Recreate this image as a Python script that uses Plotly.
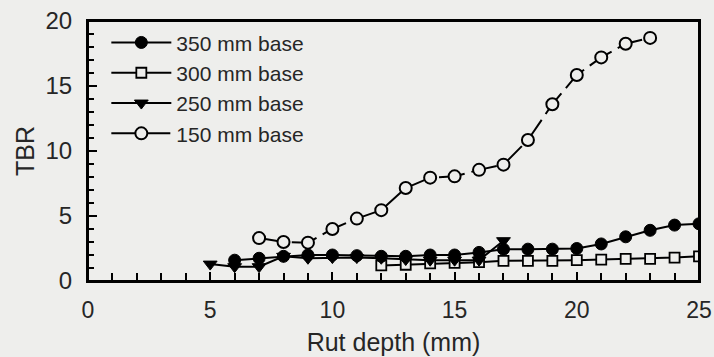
import plotly.graph_objects as go

x350 = [6, 7, 8, 9, 10, 11, 12, 13, 14, 15, 16, 17, 18, 19, 20, 21, 22, 23, 24, 25]
y350 = [1.6, 1.75, 1.9, 2.0, 2.0, 1.95, 1.9, 1.9, 2.0, 2.0, 2.2, 2.45, 2.45, 2.45, 2.5, 2.85, 3.4, 3.9, 4.3, 4.4]

x300 = [12, 13, 14, 15, 16, 17, 18, 19, 20, 21, 22, 23, 24, 25]
y300 = [1.2, 1.25, 1.35, 1.4, 1.45, 1.55, 1.55, 1.55, 1.6, 1.65, 1.7, 1.7, 1.8, 1.9]

x250 = [5, 6, 7, 8, 9, 10, 11, 12, 13, 14, 15, 16, 17]
y250 = [1.3, 1.1, 1.1, 1.9, 1.75, 1.8, 1.8, 1.75, 1.65, 1.6, 1.6, 1.6, 3.1]

x150 = [7, 8, 9, 10, 11, 12, 13, 14, 15, 16, 17, 18, 19, 20, 21, 22, 23]
y150 = [3.3, 3.0, 2.95, 4.0, 4.8, 5.45, 7.15, 7.95, 8.05, 8.55, 8.95, 10.85, 13.6, 15.85, 17.2, 18.25, 18.7]

x_tick_step = 5
y_tick_step = 5

BG = "#eeeeec"
FONT = "Liberation Sans, Arial, sans-serif"
TXT = "#262626"

fig = go.Figure()
fig.add_trace(go.Scatter(
    x=x150, y=y150, name="150 mm base", mode="lines+markers", legendrank=4,
    line=dict(color="black", width=2, dash="26px,7px"),
    marker=dict(symbol="circle", size=12, color=BG, line=dict(color="black", width=2)),
))
fig.add_trace(go.Scatter(
    x=x300, y=y300, name="300 mm base", mode="lines+markers", legendrank=2,
    line=dict(color="black", width=2),
    marker=dict(symbol="square", size=10, color=BG, line=dict(color="black", width=1.8)),
))
fig.add_trace(go.Scatter(
    x=x250, y=y250, name="250 mm base", mode="lines+markers", legendrank=3,
    line=dict(color="black", width=2),
    marker=dict(symbol="triangle-down", size=12, color="black", line=dict(color="black", width=1)),
))
fig.add_trace(go.Scatter(
    x=x350, y=y350, name="350 mm base", mode="lines+markers", legendrank=1,
    line=dict(color="black", width=2),
    marker=dict(symbol="circle", size=12, color="black", line=dict(color="black", width=1)),
))

fig.add_shape(
    type="rect", xref="paper", yref="paper", x0=0, y0=0, x1=1, y1=1,
    line=dict(color="black", width=2), layer="above",
)

fig.update_layout(
    width=714, height=357,
    margin=dict(l=88, r=15, t=21, b=76, autoexpand=False),
    paper_bgcolor=BG, plot_bgcolor=BG,
    font=dict(family=FONT, color=TXT, size=24),
    showlegend=True,
    legend=dict(
        x=0.03, y=0.995, xanchor="left", yanchor="top",
        bgcolor="rgba(0,0,0,0)", font=dict(size=21, color=TXT),
        tracegroupgap=0, itemwidth=60,
    ),
    xaxis=dict(
        range=[0, 25], tickmode="linear", tick0=0, dtick=x_tick_step,
        ticks="inside", ticklen=9, tickwidth=1.5, automargin=False,
        tickcolor="black", showline=True, linecolor="black", linewidth=2, mirror=True,
        showgrid=False, zeroline=False,
        minor=dict(dtick=1, ticks="inside", ticklen=8, tickwidth=1.5, tickcolor="black", showgrid=False),
        tickfont=dict(size=23), ticklabelstandoff=7,
        title=dict(text="Rut depth (mm)", font=dict(size=25), standoff=12),
    ),
    yaxis=dict(
        range=[0, 20], tickmode="linear", tick0=0, dtick=y_tick_step,
        ticks="inside", ticklen=9, tickwidth=1.5, automargin=False,
        tickcolor="black", showline=True, linecolor="black", linewidth=2, mirror=True,
        showgrid=False, zeroline=False,
        minor=dict(dtick=1, ticks="inside", ticklen=6, tickwidth=1.5, tickcolor="black", showgrid=False),
        tickfont=dict(size=24), ticklabelstandoff=9,
        title=dict(text="TBR", font=dict(size=25), standoff=4),
    ),
)

fig.write_html(
    "out.html",
    config={"displayModeBar": False},
    post_script=(
        "document.body.style.margin='0';"
        "document.body.style.overflow='hidden';"
        "document.documentElement.style.overflow='hidden';"
        "document.body.style.background='" + BG + "';"
    ),
)
